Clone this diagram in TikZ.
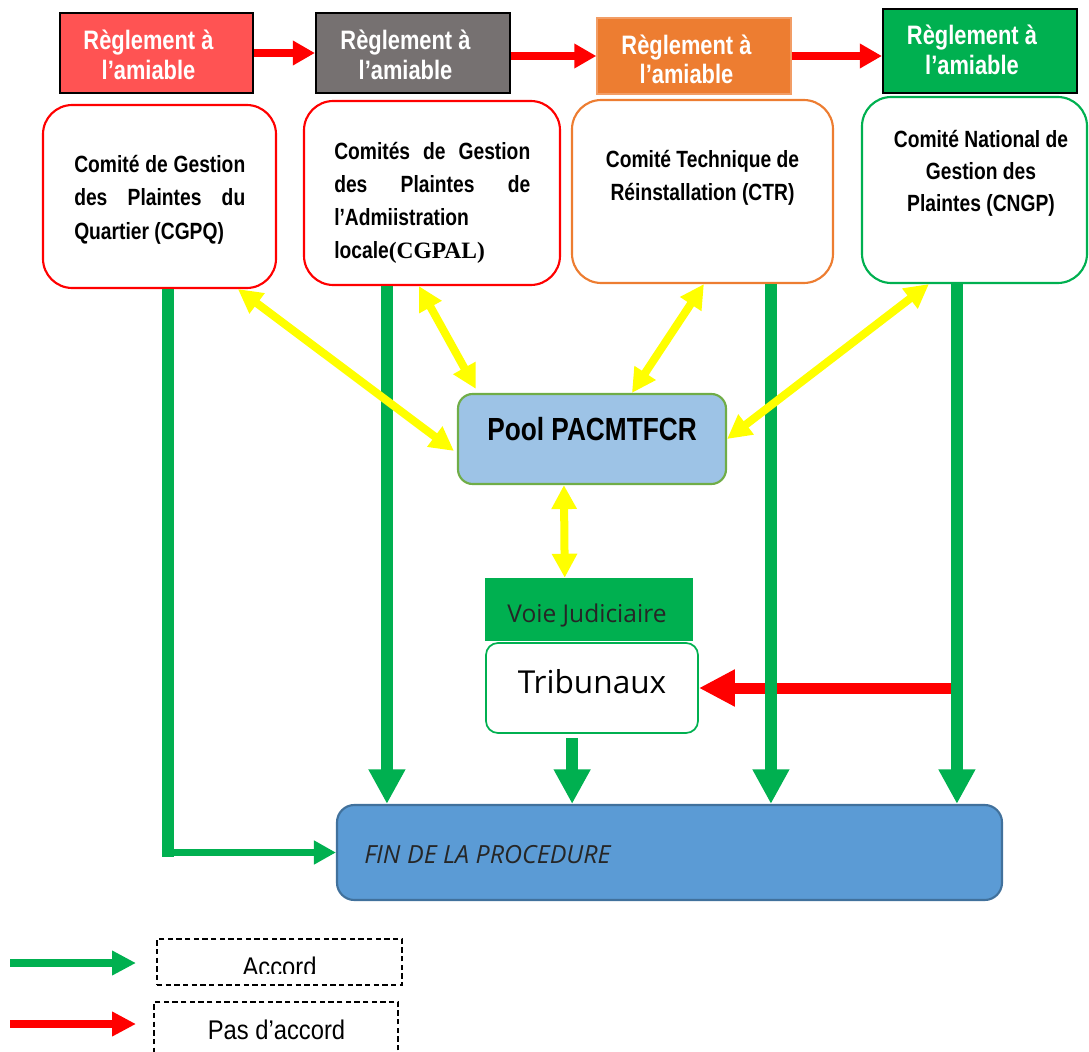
\documentclass[tikz,border=0pt]{standalone}
\usepackage{fontspec}
\setmainfont{Liberation Sans}
\newfontfamily\narb[FakeStretch=0.82]{Liberation Sans}
\newfontfamily\narr[FakeStretch=0.88]{Liberation Sans}
\newfontfamily\tnr{Liberation Serif}
\newfontfamily\osans{Open Sans}
\usetikzlibrary{arrows.meta,fit,calc}
\definecolor{cRed}{HTML}{FF5353}
\definecolor{cGray}{HTML}{767171}
\definecolor{cOrange}{HTML}{ED7D31}
\definecolor{cGreen}{HTML}{00B050}
\definecolor{cPool}{HTML}{9DC3E6}
\definecolor{cPoolB}{HTML}{70AD47}
\definecolor{cFin}{HTML}{5B9BD5}
\definecolor{cFinB}{HTML}{41719C}
\definecolor{cYel}{HTML}{FFFF00}
\definecolor{cArr}{HTML}{FF0000}
\definecolor{cTxt}{HTML}{262626}
\tikzset{
  gtip/.tip={Triangle[length=26pt,width=26pt]},
  gtipS/.tip={Triangle[length=16.5pt,width=17pt]},
  stip/.tip={Triangle[length=16.5pt,width=17.5pt]},
  ytip/.tip={Triangle[length=18pt,width=18pt]},
  rtip/.tip={Triangle[length=27pt,width=26pt]},
  ltip/.tip={Triangle[length=18pt,width=17.5pt]},
}
\begin{document}
\begin{tikzpicture}[x=0.75pt,y=-0.75pt,
  rbox/.style={draw=black,line width=1.6pt,inner sep=0pt},
  comm/.style={fill=white,rounded corners=22pt,line width=1.6pt,inner sep=0pt},
  rtxt/.style={text=white,font=\narb\bfseries\fontsize{20pt}{24pt}\selectfont,anchor=base,inner sep=0pt},
  ctxt/.style={font=\narb\bfseries\fontsize{17.6pt}{21pt}\selectfont,anchor=base west,inner sep=0pt},
  cctxt/.style={font=\narb\bfseries\fontsize{17.6pt}{21pt}\selectfont,anchor=base,inner sep=0pt},
  ltxt/.style={font=\narr\fontsize{20.25pt}{24pt}\selectfont,anchor=base,inner sep=0pt},
  gline/.style={draw=cGreen,line width=8.5pt},
  rarrow/.style={draw=cArr,line width=6pt,-stip},
  yarr/.style={draw=cYel,line width=6pt,ytip-ytip},
  legbox/.style={draw=black,dash pattern=on 4pt off 2.5pt,line width=0.8pt,inner sep=0pt}]
\useasboundingbox (0,0) rectangle (1089,1052);
\clip (0,0) rectangle (1089,1052);

% Reglement boxes
\node[rbox,fill=cRed,fit={(60,13) (253,93)}] (r1) {};
\node[rbox,fill=cGray,fit={(316,13) (510,93)}] (r2) {};
\node[rbox,fill=cOrange,draw=cOrange!75!white,line width=1pt,fit={(597,18) (791,94)}] (r3) {};
\node[rbox,fill=cGreen,fit={(883,9) (1077,93)}] (r4) {};
\node[rtxt] (r1a) at (148.5,50) {Règlement à};
\node[rtxt] (r1b) at (148.5,80) {l’amiable};
\node[rtxt] (r2a) at (405.5,50) {Règlement à};
\node[rtxt] (r2b) at (405.5,80) {l’amiable};
\node[rtxt] (r3a) at (686.5,55) {Règlement à};
\node[rtxt] (r3b) at (686.5,84) {l’amiable};
\node[rtxt] (r4a) at (972,45) {Règlement à};
\node[rtxt] (r4b) at (972,75) {l’amiable};
\draw[rarrow] (r1.east) -- (r1.east -| r2.west);
\draw[rarrow] (r3.west -| r2.east) -- (r3.west);
\draw[rarrow] (r3.east) -- (r3.east -| r4.west);

% Committees
\node[comm,draw=cArr,fit={(43,105) (276,288)}] (cgpq) {};
\node[comm,draw=cArr,fit={(304,101) (560,285)}] (cgpal) {};
\node[comm,draw=cOrange,fit={(572,100) (833,283)}] (ctr) {};
\node[comm,draw=cGreen,fit={(862,97) (1087,283)}] (cngp) {};
\node[ctxt] (t1a) at (74,173) {\makebox[128.25pt][s]{Comité de Gestion}};
\node[ctxt] (t1b) at (74,206) {\makebox[128.25pt][s]{des Plaintes du}};
\node[ctxt] (t1c) at (74,239) {Quartier (CGPQ)};
\node[ctxt] (t2a) at (334,160) {\makebox[147pt][s]{Comités de Gestion}};
\node[ctxt] (t2b) at (334,193) {\makebox[147pt][s]{des Plaintes de}};
\node[ctxt] (t2c) at (334,226) {l’Admiistration};
\node[ctxt] (t2d) at (334,258) {locale{\tnr\bfseries\fontsize{17.6pt}{21pt}\selectfont(CGPAL)}};
\node[cctxt] (t3a) at (702.5,168) {Comité Technique de};
\node[cctxt] (t3b) at (702.5,200) {Réinstallation (CTR)};
\node[cctxt] (t4a) at (981,148) {Comité National de};
\node[cctxt] (t4b) at (981,180) {Gestion des};
\node[cctxt] (t4c) at (981,212) {Plaintes (CNGP)};

% Pool
\node[draw=cPoolB,fill=cPool,rounded corners=11pt,line width=1.6pt,inner sep=0pt,fit={(458,394) (726,484)}] (pool) {};
\node[font=\narb\bfseries\fontsize{24pt}{28pt}\selectfont,anchor=base,inner sep=0pt] (poolt) at (592,440) {Pool PACMTFCR};

% Voie judiciaire / Tribunaux
\node[fill=cGreen,inner sep=0pt,fit={(485,578) (693,641)}] (voie) {};
\node[font=\osans\fontsize{18.4pt}{22pt}\selectfont,text=cTxt,anchor=base,inner sep=0pt] (voiet) at (587,622) {Voie Judiciaire};
\node[draw=cGreen,fill=white,rounded corners=9pt,line width=1.3pt,inner sep=0pt,fit={(486,643) (698,733)}] (trib) {};
\node[font=\osans\fontsize{23.7pt}{28pt}\selectfont,anchor=base,inner sep=0pt] (tribt) at (592,693) {Tribunaux};

% Fin
\node[draw=cFinB,fill=cFin,rounded corners=13pt,line width=1.6pt,inner sep=0pt,fit={(337,805) (1002,900)}] (fin) {};
\node[font=\osans\itshape\fontsize{18.75pt}{22pt}\selectfont,text=cTxt,anchor=base west,inner sep=0pt] (fint) at (364,863) {FIN DE LA PROCEDURE};

% red arrow to Tribunaux
\coordinate (g4s) at ($(cngp.south west)+(96,0)$);
\draw[draw=cArr,line width=8.25pt,-rtip] (g4s |- trib.east) -- (trib.east);

% green connectors
\coordinate (g1s) at ($(cgpq.south west)+(126,0)$);
\coordinate (g1c) at (g1s |- fin.west);
\draw[gline] (g1s) -- ($(g1c)+(0,4)$);
\draw[draw=cGreen,line width=5.5pt,-gtipS] ($(g1c)+(-6,0)$) -- (fin.west);
\coordinate (g2s) at ($(cgpal.south west)+(84,0)$);
\draw[gline,-gtip] (g2s) -- (g2s |- fin.north);
\coordinate (g3s) at ($(ctr.south west)+(200,0)$);
\draw[gline,-gtip] (g3s) -- (g3s |- fin.north);
\draw[gline,-gtip] (g4s) -- (g4s |- fin.north);
\coordinate (g5s) at ($(trib.south west)+(87,4)$);
\draw[gline,-gtip] (g5s) -- (g5s |- fin.north);

% yellow double arrows
\draw[yarr] ($(cgpq.south west)+(196,0)$) -- ($(pool.north west)+(-3,58)$);
\draw[yarr] ($(cgpal.south west)+(116,0)$) -- ($(pool.north west)+(19,-4)$);
\draw[yarr] ($(ctr.south west)+(133,0)$) -- ($(pool.north west)+(175,0)$);
\draw[yarr] ($(cngp.south west)+(68,0)$) -- (pool.east);
\draw[yarr] ($(pool.south west)+(107,0)$) -- ($(voie.north west)+(80,0)$);

% legend
\coordinate (lg1) at (10,963);
\coordinate (lg2) at (136,963);
\draw[draw=cGreen,line width=6pt,-ltip] (lg1) -- (lg2);
\coordinate (lr1) at (10,1024);
\coordinate (lr2) at (136,1024);
\draw[draw=cArr,line width=6pt,-ltip] (lr1) -- (lr2);
\node[legbox,fit={(157,939) (402,985)}] (leg1) {};
\begin{scope}
\clip (157,939) rectangle (402,973);
\node[ltxt] (leg1t) at (279.5,976) {Accord};
\end{scope}
\node[legbox,fit={(154,1002) (398,1075)}] (leg2) {};
\node[ltxt] (leg2t) at (276.5,1039) {Pas d’accord};
\end{tikzpicture}
\end{document}
